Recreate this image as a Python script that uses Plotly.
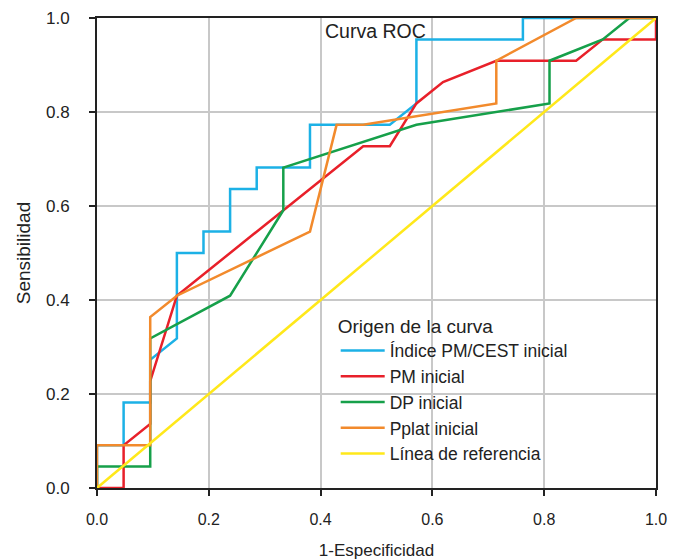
import plotly.graph_objects as go

# ROC curve data (1-Especificidad, Sensibilidad)
indice_x = [0, 0, 0.0476, 0.0476, 0.0952, 0.0952, 0.1429, 0.1429, 0.1905, 0.1905, 0.2381, 0.2381,
            0.2857, 0.2857, 0.3810, 0.3810, 0.5238, 0.5714, 0.5714, 0.7619, 0.7619, 1.0]
indice_y = [0, 0.0909, 0.0909, 0.1818, 0.1818, 0.2727, 0.3182, 0.5000, 0.5000, 0.5455, 0.5455, 0.6364,
            0.6364, 0.6818, 0.6818, 0.7727, 0.7727, 0.8182, 0.9545, 0.9545, 1.0, 1.0]

pm_x = [0, 0.0476, 0.0476, 0.0952, 0.0952, 0.1429, 0.4762, 0.5238, 0.5714, 0.6190, 0.7143, 0.8571,
        0.9048, 1.0, 1.0]
pm_y = [0, 0, 0.0909, 0.1364, 0.2273, 0.4091, 0.7273, 0.7273, 0.8182, 0.8636, 0.9091, 0.9091,
        0.9545, 0.9545, 1.0]

dp_x = [0, 0, 0.0952, 0.0952, 0.2381, 0.3333, 0.3333, 0.5714, 0.8095, 0.8095, 0.9048, 0.9524, 1.0]
dp_y = [0, 0.0455, 0.0455, 0.3182, 0.4091, 0.5909, 0.6818, 0.7727, 0.8182, 0.9091, 0.9545, 1.0, 1.0]

pplat_x = [0, 0, 0.0952, 0.0952, 0.1429, 0.3810, 0.4286, 0.4762, 0.7143, 0.7143, 0.8571, 1.0]
pplat_y = [0, 0.0909, 0.0909, 0.3636, 0.4091, 0.5455, 0.7727, 0.7727, 0.8182, 0.9091, 1.0, 1.0]

ref_x = [0, 1]
ref_y = [0, 1]

names = ["Índice PM/CEST inicial", "PM inicial", "DP inicial", "Pplat inicial", "Línea de referencia"]
colors = ["#1CB1E6", "#E8202A", "#16A04A", "#F28A2C", "#FFE81A"]
series = [(indice_x, indice_y), (pm_x, pm_y), (dp_x, dp_y), (pplat_x, pplat_y), (ref_x, ref_y)]

fig = go.Figure()
for (xs, ys), name, col in zip(series, names, colors):
    fig.add_trace(go.Scatter(x=xs, y=ys, mode="lines", name=name,
                             line=dict(color=col, width=2.5)))

font_family = "Liberation Sans, Arial, sans-serif"
dark = "#222222"
axis_common = dict(range=[0, 1], dtick=0.2, tickformat=".1f", showgrid=True,
                   gridcolor="#c8c8c8", gridwidth=1.5, showline=True, linecolor=dark,
                   linewidth=2, mirror=True, ticks="outside", ticklen=6, tickwidth=1.5,
                   tickcolor=dark, zeroline=False, layer="below traces", automargin=False)

fig.update_layout(
    width=686, height=560,
    margin=dict(l=89, r=38, t=10, b=80),
    paper_bgcolor="white", plot_bgcolor="white",
    font=dict(family=font_family, size=16, color=dark),
    xaxis=dict(title=dict(text="1-Especificidad", font=dict(size=17), standoff=17),
               tickfont=dict(size=16, color=dark, family=font_family),
               ticklabelstandoff=10, **axis_common),
    yaxis=dict(title=dict(text="Sensibilidad", font=dict(size=19), standoff=10),
               tickfont=dict(size=17, color=dark, family=font_family),
               ticklabelstandoff=16, **axis_common),
    legend=dict(title=dict(text="Origen de la curva", font=dict(size=19)),
                x=0.427, y=0.383, xanchor="left", yanchor="top",
                bgcolor="rgba(0,0,0,0)", font=dict(size=17.5), tracegroupgap=0,
                itemwidth=44),
    showlegend=True,
    annotations=[dict(text="Curva ROC", x=0.498, y=0.972, xref="x", yref="y",
                      showarrow=False, font=dict(size=19.5, color=dark))],
)

fig.write_html("out.html")
